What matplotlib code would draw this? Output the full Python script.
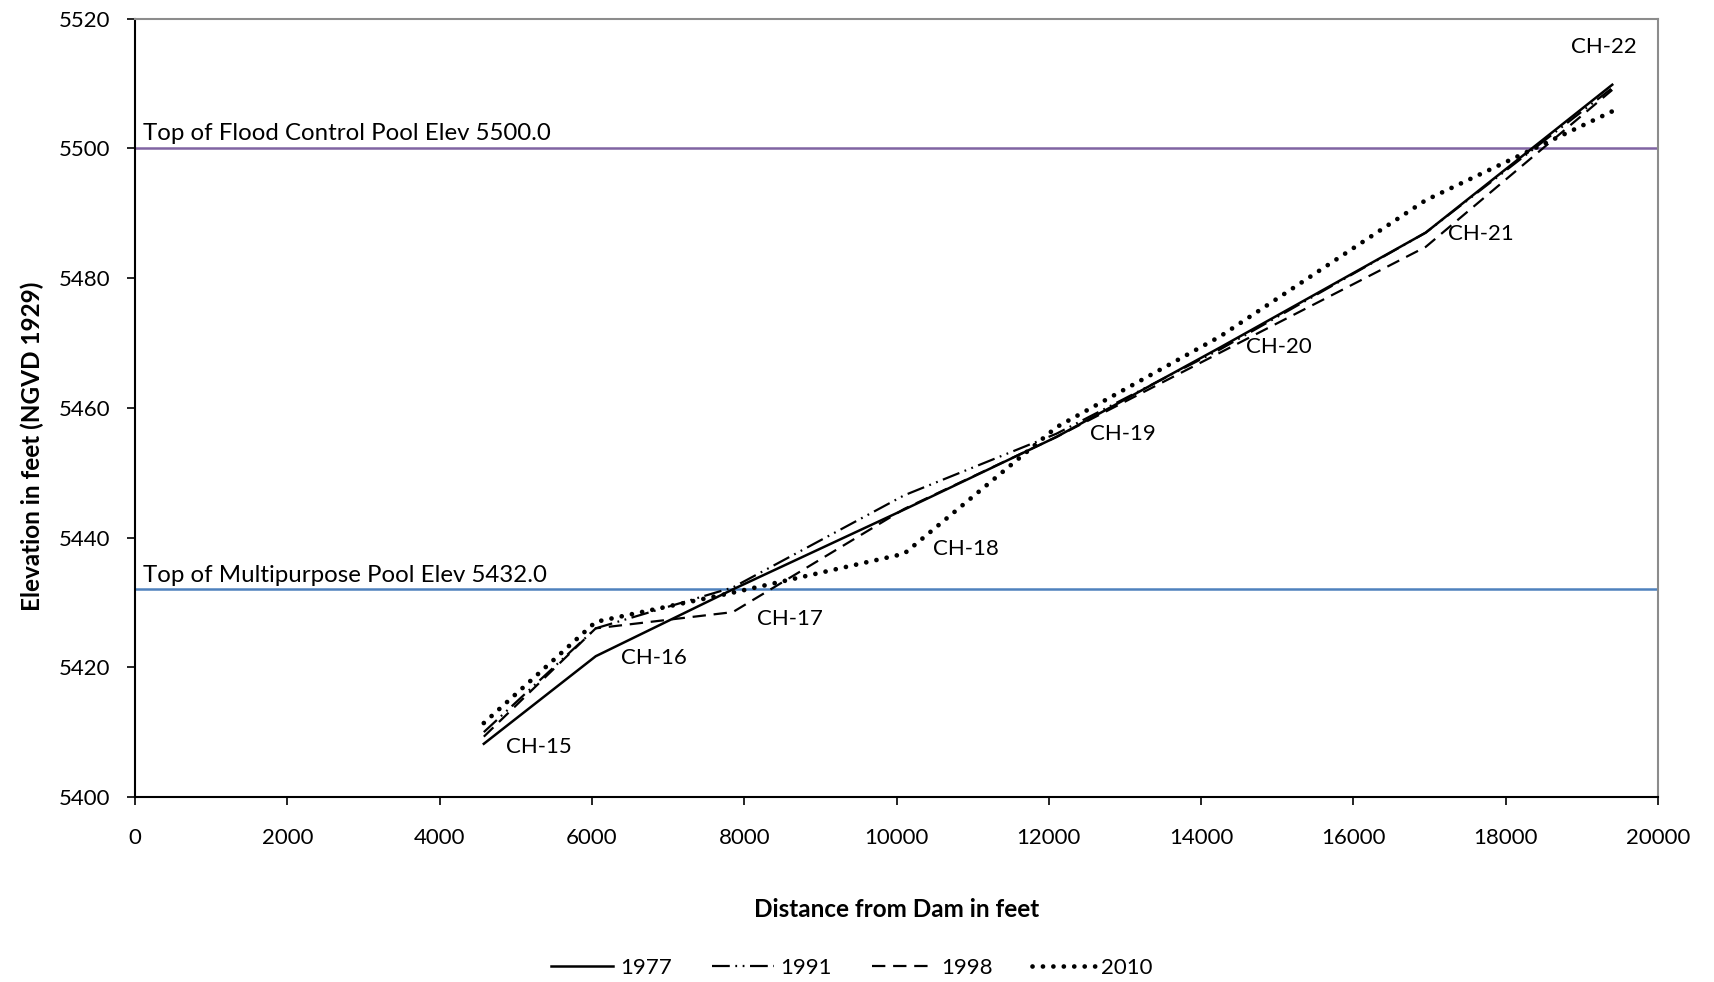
import matplotlib
matplotlib.use('Agg')
import matplotlib.pyplot as plt

# Distance from dam (ft) for each cross-section station
stations = ['CH-15', 'CH-16', 'CH-17', 'CH-18', 'CH-19', 'CH-20', 'CH-21', 'CH-22']
distance = [4580, 6050, 7850, 10100, 12100, 14250, 16950, 19400]

# Thalweg elevations per survey year (ft, NGVD 1929)
elev_1977 = [5408.2, 5421.7, 5432.0, 5444.3, 5455.5, 5469.3, 5487.0, 5509.8]
elev_1991 = [5410.0, 5426.0, 5432.3, 5446.5, 5456.0, 5469.0, 5487.0, 5509.3]
elev_1998 = [5409.3, 5426.0, 5428.5, 5444.4, 5455.5, 5468.5, 5484.8, 5509.0]
elev_2010 = [5411.4, 5427.0, 5431.5, 5437.5, 5457.0, 5471.0, 5492.0, 5505.7]

# Station label positions (data coords, left edge / centre)
label_x = [4878, 6385, 8164, 10473, 12539, 14591, 17245, 18852]
label_y = [5407.7, 5421.4, 5427.5, 5438.3, 5456.0, 5469.3, 5486.8, 5515.6]

flood_pool = 5500.0
multi_pool = 5432.0

plt.rcParams['font.family'] = ['Lato', 'DejaVu Sans']

fig = plt.figure(figsize=(17.14, 9.82), dpi=100)
ax = fig.add_axes([0.0788, 0.1884, 0.8885, 0.7927])

# pool reference lines
ax.axhline(flood_pool, color='#8064A2', lw=1.8, zorder=1)
ax.axhline(multi_pool, color='#4F81BD', lw=1.8, zorder=1)
ax.text(100, flood_pool + 0.6, 'Top of Flood Control Pool Elev 5500.0',
        fontsize=17.3, va='bottom', ha='left')
ax.text(100, multi_pool + 0.6, 'Top of Multipurpose Pool Elev 5432.0',
        fontsize=17.3, va='bottom', ha='left')

ax.plot(distance, elev_1977, color='black', lw=1.8, label='1977')
ax.plot(distance, elev_1991, color='black', lw=1.6,
        linestyle=(0, (8, 2.5, 0.8, 2.5, 0.8, 2.5)), label='1991')
ax.plot(distance, elev_1998, color='black', lw=1.6,
        linestyle=(0, (6, 3.5)), label='1998')
ax.plot(distance, elev_2010, color='black', lw=3.4,
        linestyle=(0, (0.01, 2.2)), dash_capstyle='round', label='2010')

for name, lx, ly in zip(stations, label_x, label_y):
    ax.text(lx, ly, name, fontsize=16, va='center', ha='left')

ax.set_xlim(0, 20000)
ax.set_ylim(5400, 5520)
ax.set_xticks(range(0, 20001, 2000))
ax.set_yticks(range(5400, 5521, 20))
ax.tick_params(axis='both', direction='out', length=6, width=1.2, labelsize=16)
ax.tick_params(axis='x', pad=16)
ax.tick_params(axis='y', pad=12)

for side in ['left', 'bottom']:
    ax.spines[side].set_color('black')
    ax.spines[side].set_linewidth(1.5)
for side in ['top', 'right']:
    ax.spines[side].set_color('#8c8c8c')
    ax.spines[side].set_linewidth(1.5)

ax.set_xlabel('Distance from Dam in feet', fontsize=17.5, fontweight='bold', labelpad=36)
ax.set_ylabel('Elevation in feet (NGVD 1929)', fontsize=17.5, fontweight='bold')
ax.yaxis.set_label_coords(-0.06, 0.45)

fig.legend(loc='lower center', ncol=4, frameon=False, fontsize=16,
           bbox_to_anchor=(0.497, -0.016), handlelength=2.8, columnspacing=1.8,
           handletextpad=0.3)

fig.savefig('out.png', dpi=100)
